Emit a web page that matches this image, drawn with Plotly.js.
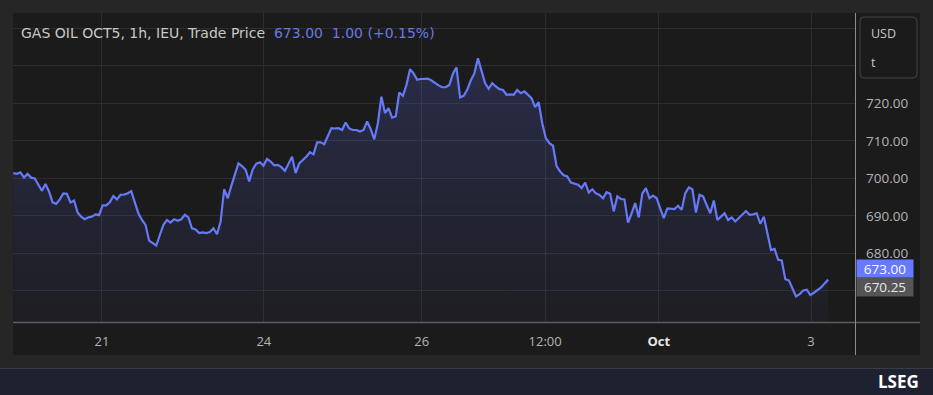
<!DOCTYPE html>
<html>
<head>
<meta charset="utf-8">
<script src="https://cdn.plot.ly/plotly-3.0.1.min.js"></script>
<style>
html,body{margin:0;padding:0;background:#262626;}
#chart{width:933px;height:395px;}
</style>
</head>
<body>
<div id="chart"></div>
<script>
// ---- data (hourly trade prices, USD/t) ----
const prices = [
701.4,701.2,701.6,700.2,701.2,700.2,700.0,698.3,696.7,698.5,
696.5,693.6,693.2,694.4,696.0,695.9,693.6,694.1,690.9,689.8,
689.1,689.6,689.8,690.4,690.2,692.8,692.8,693.6,695.3,694.4,
695.6,695.7,696.0,696.6,693.4,690.7,688.9,687.6,683.4,682.7,
682.1,684.9,687.6,688.9,688.2,689.1,688.7,689.1,690.3,689.6,
686.7,686.4,685.4,685.6,685.4,685.7,686.7,685.1,688.5,697.1,
694.7,698.0,700.9,704.0,703.3,702.3,699.2,702.4,703.9,704.3,
703.4,705.2,704.5,703.5,703.6,703.0,702.0,703.8,705.8,701.4,
704.0,704.9,705.8,707.0,706.4,709.6,709.6,709.1,711.2,713.4,
713.3,713.4,712.9,714.9,713.3,712.9,712.9,712.5,712.9,715.2,
713.1,710.4,714.7,721.8,717.4,718.7,716.2,716.5,722.9,722.0,
724.9,729.1,728.0,726.3,
726.5,726.6,726.6,726.1,725.4,724.8,724.3,724.3,724.9,727.9,729.6,
721.6,722.0,723.6,726.1,
728.0,732.0,728.5,725.4,723.9,725.4,724.5,723.8,723.6,722.3,
722.4,722.3,723.6,722.7,723.2,722.3,721.4,719.0,720.3,714.7,
710.7,709.4,708.7,703.3,701.8,700.8,700.5,698.9,698.7,698.3,
697.4,698.9,696.2,697.1,696.0,695.6,694.7,696.3,695.9,691.2,
695.2,694.5,694.4,688.2,690.7,693.4,689.6,696.0,697.4,694.7,
695.4,694.7,692.0,689.4,692.0,691.8,691.8,692.7,691.6,696.0,
697.6,697.1,690.9,695.6,695.2,692.9,690.7,694.1,688.9,689.8,
690.7,688.9,689.6,688.5,689.4,690.3,691.3,690.3,690.4,690.7,
687.9,689.8,685.4,680.9,681.2,678.3,678.1,673.1,672.8,670.7,
668.5,669.1,670.1,670.3,668.9,669.5,670.1,670.9,672.0,673.0
];
const barIndex = prices.map((_, i) => i);

// time-axis labels placed at bar positions
const tickIdx    = [24.8, 70.1, 114.3, 148.8, 180.6, 223.2];
const tickLabels = ['21', '24', '26', '12:00', '<b><span style="color:#e6e6e6">Oct</span></b>', '3'];

// price-axis grid / labels
const priceTicks  = [670, 680, 690, 700, 710, 720, 730, 740];
const priceLabels = ['', '680.00', '690.00', '700.00', '710.00', '720.00', '', ''];

const symbolTitle = 'GAS OIL OCT5, 1h, IEU, Trade Price';
const lastPrice   = prices[prices.length - 1];
const change      = 1.00;
const changePct   = 0.15;
const refPrice    = 670.25;
const unitTop     = 'USD';
const unitBottom  = 't';

// ---- geometry helpers (px -> paper) ----
const W = 933, H = 395;
const L = 13, R = 855, T = 13, B = 322;
const px = v => (v - L) / (R - L);
const py = v => (B - v) / (B - T);

const lineColor = '#6679f8';

const trace = {
  x: barIndex,
  y: prices,
  type: 'scatter',
  mode: 'lines',
  line: {color: lineColor, width: 2.2},
  fill: 'tozeroy',
  fillgradient: {
    type: 'vertical',
    start: 661.7,
    stop: 733,
    colorscale: [[0, 'rgba(90,100,220,0.04)'], [1, 'rgba(90,100,220,0.24)']]
  },
  hoverinfo: 'skip'
};

const fontFam = '"Open Sans", "Noto Sans", sans-serif';
const wideFam = '"DejaVu Sans", "Open Sans", sans-serif';

const layout = {
  width: W, height: H,
  margin: {l: L, r: W - R, t: T, b: H - B},
  paper_bgcolor: '#262626',
  plot_bgcolor: '#1b1b1b',
  showlegend: false,
  font: {family: fontFam, color: '#b4b4b4', size: 12},
  xaxis: {
    range: [-0.08, 235.5],
    tickmode: 'array',
    tickvals: tickIdx,
    ticktext: tickLabels,
    showgrid: true,
    gridcolor: '#2d2d2d',
    gridwidth: 1,
    zeroline: false,
    showline: false,
    ticks: '',
    ticklabelstandoff: 10,
    tickfont: {family: fontFam, size: 13, color: '#b4b4b4'},
    fixedrange: true
  },
  yaxis: {
    side: 'right',
    range: [661.7, 744.1],
    tickmode: 'array',
    tickvals: priceTicks,
    ticktext: priceLabels,
    showgrid: true,
    gridcolor: '#2d2d2d',
    gridwidth: 1,
    zeroline: false,
    showline: false,
    ticks: '',
    ticklabelstandoff: 10,
    tickfont: {family: fontFam, size: 13.5, color: '#b4b4b4'},
    fixedrange: true
  },
  shapes: [
    // chart card
    {type: 'rect', xref: 'paper', yref: 'paper', layer: 'below',
     x0: px(13), x1: px(920), y0: py(355), y1: py(13),
     fillcolor: '#1b1b1b', line: {width: 0}},
    // bottom brand bar
    {type: 'rect', xref: 'paper', yref: 'paper', layer: 'below',
     x0: px(0), x1: px(933), y0: py(395), y1: py(368.5),
     fillcolor: '#1e2230', line: {width: 0}},
    {type: 'line', xref: 'paper', yref: 'paper', layer: 'above',
     x0: px(0), x1: px(933), y0: py(368.5), y1: py(368.5),
     line: {color: '#3a3d45', width: 1}},
    // x axis baseline
    {type: 'line', xref: 'paper', yref: 'paper', layer: 'above',
     x0: px(13), x1: px(920), y0: py(322.5), y1: py(322.5),
     line: {color: '#5e5e5e', width: 1.5}},
    // right scale separator
    {type: 'line', xref: 'paper', yref: 'paper', layer: 'above',
     x0: px(855.5), x1: px(855.5), y0: py(355), y1: py(13),
     line: {color: '#8c8c8c', width: 1}},
    // unit box
    {type: 'path', xref: 'paper', yref: 'paper', layer: 'above',
     path: (function () {
       const x0 = px(860), x1 = px(917), y0 = py(78), y1 = py(17);
       const rx = 4 / (R - L), ry = 4 / (B - T);
       return 'M' + (x0 + rx) + ',' + y1 + ' L' + (x1 - rx) + ',' + y1 +
              ' Q' + x1 + ',' + y1 + ' ' + x1 + ',' + (y1 - ry) +
              ' L' + x1 + ',' + (y0 + ry) +
              ' Q' + x1 + ',' + y0 + ' ' + (x1 - rx) + ',' + y0 +
              ' L' + (x0 + rx) + ',' + y0 +
              ' Q' + x0 + ',' + y0 + ' ' + x0 + ',' + (y0 + ry) +
              ' L' + x0 + ',' + (y1 - ry) +
              ' Q' + x0 + ',' + y1 + ' ' + (x0 + rx) + ',' + y1 + ' Z';
     })(),
     fillcolor: '#1b1b1b', line: {color: '#444444', width: 1}}
  ],
  annotations: [
    {xref: 'paper', yref: 'paper', x: px(19), y: py(33), xanchor: 'left', yanchor: 'middle',
     showarrow: false,
     text: symbolTitle + '\u00a0\u00a0<span style="color:#6a78e6">' + lastPrice.toFixed(2) +
           '\u00a0\u00a0' + change.toFixed(2) + ' (+' + changePct.toFixed(2) + '%)</span>',
     font: {family: wideFam, size: 14, color: '#c8c8c8'}},
    {xref: 'paper', yref: 'paper', x: px(869), y: py(33), xanchor: 'left', yanchor: 'middle',
     showarrow: false, text: unitTop, font: {family: fontFam, size: 12.5, color: '#c8c8c8'}},
    {xref: 'paper', yref: 'paper', x: px(869), y: py(63), xanchor: 'left', yanchor: 'middle',
     showarrow: false, text: unitBottom, font: {family: fontFam, size: 12.5, color: '#c8c8c8'}},
    // reference price badge
    {xref: 'paper', yref: 'y', x: px(856), y: refPrice, xanchor: 'left', yanchor: 'middle', yshift: 3,
     showarrow: false, text: refPrice.toFixed(2), bgcolor: '#555555',
     width: 54, height: 16, borderpad: 1, align: 'center',
     font: {family: fontFam, size: 13.5, color: '#e8e8e8'}},
    // last price badge (stacked above the reference badge)
    {xref: 'paper', yref: 'y', x: px(856), y: lastPrice, xanchor: 'left', yanchor: 'middle', yshift: 11,
     showarrow: false, text: lastPrice.toFixed(2), bgcolor: '#6679ff',
     width: 54, height: 15, borderpad: 1, align: 'center',
     font: {family: fontFam, size: 13.5, color: '#ffffff'}},
    // brand
    {xref: 'paper', yref: 'paper', x: px(921), y: py(381), xanchor: 'right', yanchor: 'middle',
     showarrow: false, text: '<b>LSEG</b>', font: {family: fontFam, size: 17, color: '#ffffff'}}
  ]
};

Plotly.newPlot('chart', [trace], layout, {displayModeBar: false, staticPlot: true});
</script>
</body>
</html>
